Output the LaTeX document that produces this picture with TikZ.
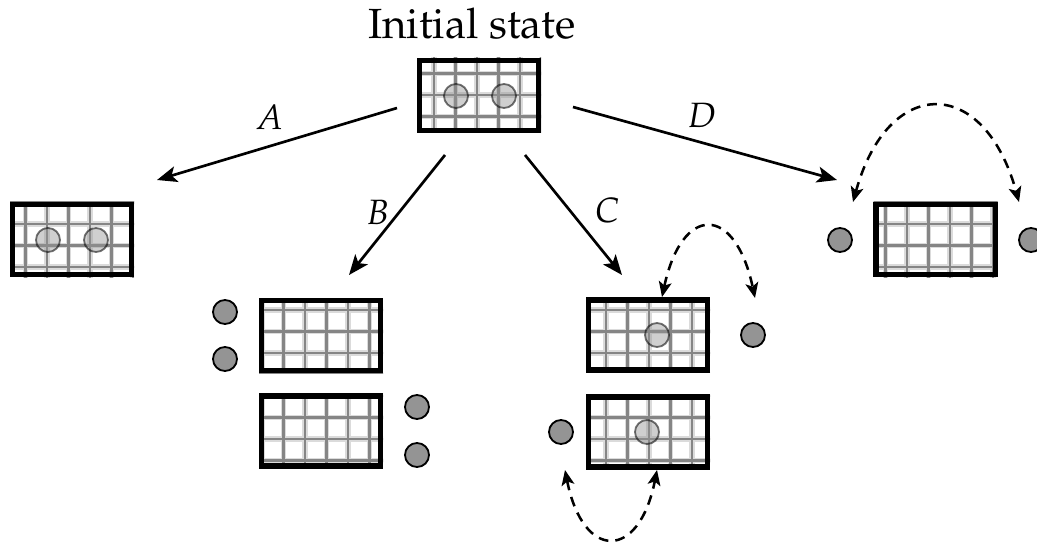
\documentclass[tikz,border=0pt]{standalone}
\usepackage[T1]{fontenc}
\usepackage{mathpazo}
\usetikzlibrary{arrows.meta,calc}

\tikzset{
	statebox/.style={draw, line width=3.6pt, minimum width=2.975cm, minimum height=1.75cm, inner sep=0pt},
	gridhalo/.style={line width=3.6pt, color=black!14},
	gridcore/.style={line width=1.5pt, color=black!48},
	ball/.style={circle, draw, line width=1.3pt, fill=black!42, minimum size=0.6cm, inner sep=0pt},
	ghost/.style={ball, fill opacity=0.45, draw opacity=0.55},
	move/.style={line width=1.9pt, -{Stealth[length=0.5cm, width=0.4cm, inset=0.12cm]}},
	hop/.style={line width=1.8pt, dash pattern=on 7pt off 5pt, {Stealth[length=0.38cm, width=0.32cm, inset=0.09cm]}-{Stealth[length=0.38cm, width=0.32cm, inset=0.09cm]}},
	lbl/.style={font=\fontsize{25}{30}\selectfont\itshape}
}

% box with a grid, #1 = name, #2 = centre
\newcommand\gridbox[2]{%
	\begin{scope}
		\clip ($(#2)+(-62,-37.5)$) rectangle ($(#2)+(62,37.5)$);
		\foreach \gx in {4,25.5,...,1037} \draw[gridhalo] (\gx,0) -- (\gx,544);
		\foreach \gy in {9,30.5,...,544} \draw[gridhalo] (0,\gy) -- (1037,\gy);
		\foreach \gx in {4,25.5,...,1037} \draw[gridcore] (\gx,0) -- (\gx,544);
		\foreach \gy in {9,30.5,...,544} \draw[gridcore] (0,\gy) -- (1037,\gy);
	\end{scope}
	\node[statebox] (#1) at (#2) {};
}

\begin{document}
\begin{tikzpicture}[x=0.025cm, y=-0.025cm]
	\useasboundingbox (0,0) rectangle (1037,544);
	
	%%%%% BOXES %%%%%
	\gridbox{init}{479,95.5}
	\gridbox{boxA}{72,239.5}
	\gridbox{boxBa}{321,335.5}
	\gridbox{boxBb}{321,431}
	\gridbox{boxCa}{648,335}
	\gridbox{boxCb}{648,432}
	\gridbox{boxD}{935.5,239.5}
	
	\node[font=\fontsize{30}{36}\selectfont, anchor=base] (title) at (472,39) {Initial state};
	
	%%%%% BALLS %%%%%
	\node[ghost] (i1) at (456,96) {};
	\node[ghost] (i2) at (504,96) {};
	
	\node[ghost] (a1) at (48,240) {};
	\node[ghost] (a2) at (96,240) {};
	
	\node[ball] (b1) at (225,312) {};
	\node[ball] (b2) at (225,359) {};
	\node[ball] (b3) at (417,407) {};
	\node[ball] (b4) at (417,455) {};
	
	\node[ghost] (c1) at (657,335) {};
	\node[ball] (c2) at (753,335) {};
	\node[ghost] (c3) at (647,432) {};
	\node[ball] (c4) at (561,432) {};
	
	\node[ball] (d1) at (840,240) {};
	\node[ball] (d2) at (1031,240) {};
	
	%%%%% MOVES %%%%%
	\coordinate (aS) at (397,108);
	\coordinate (aE) at (157,180);
	\coordinate (bS) at (445,155);
	\coordinate (bE) at (349,275);
	\coordinate (cS) at (525,155);
	\coordinate (cE) at (622,275);
	\coordinate (dS) at (573,107);
	\coordinate (dE) at (837,180);
	
	\draw[move] (aS) -- (aE);
	\draw[move] (bS) -- (bE);
	\draw[move] (cS) -- (cE);
	\draw[move] (dS) -- (dE);
	
	\node[lbl] (la) at (270,117) {A};
	\node[lbl] (lb) at (378,212) {B};
	\node[lbl] (lc) at (607,210) {C};
	\node[lbl] (ld) at (702,115) {D};
	
	%%%%% HOPS %%%%%
	\coordinate (hc1) at (662,297);
	\coordinate (hc2) at (755,298);
	\coordinate (hc3) at (565,470);
	\coordinate (hc4) at (657,470);
	\coordinate (hd1) at (853,202);
	\coordinate (hd2) at (1019,202);
	
	\draw[hop] (hc1) .. controls (682,204) and (735,204) .. (hc2);
	\draw[hop] (hc3) .. controls (583,561) and (639,561) .. (hc4);
	\draw[hop] (hd1) .. controls (888,75) and (984,75) .. (hd2);
	
\end{tikzpicture}
\end{document}
